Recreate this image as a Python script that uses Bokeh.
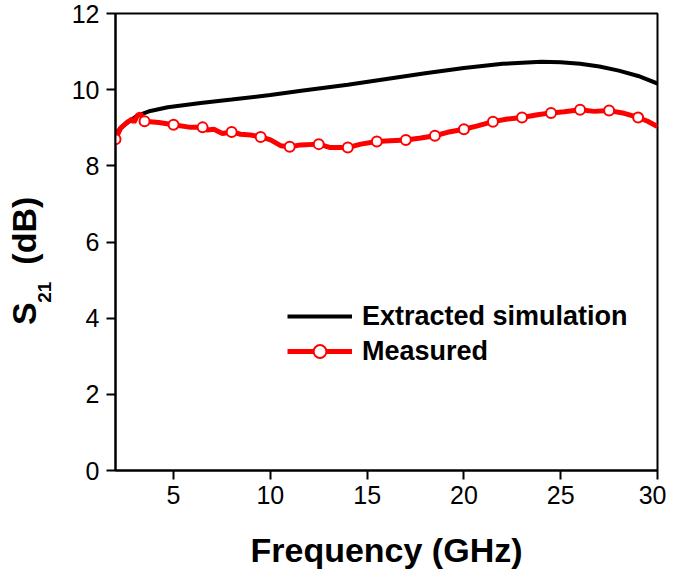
from bokeh.plotting import figure
from bokeh.models import Range1d, FixedTicker, Legend, LegendItem, LinearAxis
from bokeh.embed import file_html
from bokeh.resources import INLINE

# ---- data ----
sim_freq = [2, 2.3, 2.6, 3.1, 3.8, 4.7, 6.4, 8, 10, 11.6, 14, 16, 18, 20, 22, 24, 25, 26, 27, 28, 29, 30]
sim_s21 = [8.85, 9.0, 9.13, 9.31, 9.44, 9.54, 9.65, 9.74, 9.86, 9.97, 10.13, 10.28, 10.43, 10.57,
           10.68, 10.73, 10.72, 10.68, 10.61, 10.5, 10.36, 10.16]

meas_freq = [2.0, 2.26, 2.6, 2.86, 2.95, 3.15, 3.29, 3.5, 4.24, 5.0, 5.88, 6.5, 6.74, 7.08, 7.52, 8.0,
             8.46, 8.98, 9.5, 10.01, 10.53, 11.0, 11.57, 12.5, 13.1, 14.0, 14.67, 15.5, 16.2, 17.0,
             17.77, 18.5, 19.15, 20.0, 20.7, 21.5, 22.25, 23.0, 23.8, 24.5, 25.18, 26.0, 26.73, 27.5,
             28.28, 29.0, 29.49, 30.0]
meas_s21 = [8.70, 8.99, 9.14, 9.23, 9.14, 9.34, 9.36, 9.17, 9.14, 9.08, 9.01, 9.01, 8.94, 8.96, 8.85, 8.89,
            8.83, 8.81, 8.76, 8.68, 8.53, 8.50, 8.55, 8.57, 8.48, 8.48, 8.57, 8.64, 8.66, 8.68,
            8.73, 8.79, 8.88, 8.96, 9.05, 9.16, 9.23, 9.27, 9.34, 9.39, 9.42, 9.47, 9.43, 9.45,
            9.38, 9.27, 9.17, 9.03]

marker_freq = [2, 3.5, 5, 6.5, 8, 9.5, 11, 12.5, 14, 15.5, 17, 18.5, 20, 21.5, 23, 24.5, 26, 27.5, 29]
marker_s21 = [8.70, 9.17, 9.08, 9.01, 8.89, 8.76, 8.50, 8.57, 8.48, 8.64, 8.68, 8.79, 8.96, 9.16,
              9.27, 9.39, 9.47, 9.45, 9.27]

x_ticks = [5, 10, 15, 20, 25, 30]
y_ticks = [0, 2, 4, 6, 8, 10, 12]

x_label = "Frequency (GHz)"
y_label_main = ("S", "(dB)")
y_label_sub = "21"
legend_labels = ["Extracted simulation", "Measured"]

FONT = "Liberation Sans"
RED = "#ff0000"
NB = "\u00a0"

p = figure(output_backend="svg", toolbar_location=None,
           frame_width=542, frame_height=457,
           x_range=Range1d(2, 30), y_range=Range1d(0, 12),
           min_border_left=115, min_border_top=13, min_border_right=9, min_border_bottom=60)
p.grid.visible = False
p.outline_line_color = "black"
p.outline_line_width = 2
p.background_fill_color = "white"
p.border_fill_color = "white"

for ax in (p.xaxis[0], p.yaxis[0]):
    ax.axis_line_width = 2
    ax.major_tick_line_width = 2
    ax.major_tick_out = 9
    ax.major_tick_in = 0
    ax.minor_tick_out = 0
    ax.minor_tick_in = 0
    ax.major_label_text_font = FONT
    ax.major_label_text_font_size = "25px"
    ax.major_label_text_color = "black"

p.xaxis.ticker = FixedTicker(ticks=x_ticks)
p.yaxis.ticker = FixedTicker(ticks=y_ticks)
p.xaxis.major_label_standoff = 6
p.yaxis.major_label_standoff = 7
p.xaxis.axis_label = x_label
p.xaxis.axis_label_text_font = FONT
p.xaxis.axis_label_text_font_size = "34px"
p.xaxis.axis_label_text_font_style = "bold"
p.xaxis.axis_label_text_color = "black"
p.xaxis.axis_label_text_line_height = 1.0
p.xaxis.axis_label_standoff = 24


def title_axis(text, size, standoff):
    return LinearAxis(ticker=FixedTicker(ticks=[]), axis_line_color=None,
                      major_tick_out=0, major_tick_in=0, minor_tick_out=0, minor_tick_in=0,
                      major_label_standoff=0, major_label_text_font_size="1px",
                      axis_label=text, axis_label_standoff=standoff,
                      axis_label_text_font=FONT, axis_label_text_font_size=size,
                      axis_label_text_font_style="bold", axis_label_text_color="black")


# y-axis title "S21 (dB)" with subscript: two stacked title-only axes
sub_axis = title_axis(y_label_sub + NB * 19, "19px", 14)
main_axis = title_axis(y_label_main[0] + NB * 4 + y_label_main[1] + NB * 4, "34px", -12)
p.add_layout(sub_axis, "left")
p.add_layout(main_axis, "left")

sim = p.line(sim_freq, sim_s21, line_color="black", line_width=4)
meas = p.line(meas_freq, meas_s21, line_color=RED, line_width=5)
mk = p.scatter(marker_freq, marker_s21, marker="circle", size=10, line_color=RED,
               line_width=2, fill_color="white")

legend = Legend(items=[LegendItem(label=legend_labels[0], renderers=[sim]),
                       LegendItem(label=legend_labels[1], renderers=[meas, mk])],
                location=(172, 103), orientation="vertical",
                border_line_color=None, background_fill_alpha=0,
                padding=0, margin=0, spacing=3,
                glyph_width=65, glyph_height=32, label_height=32, label_standoff=10,
                label_text_font=FONT, label_text_font_size="27px",
                label_text_font_style="bold", label_text_color="black")
p.add_layout(legend, "center")

open("out.html", "w").write(file_html(p, INLINE))
